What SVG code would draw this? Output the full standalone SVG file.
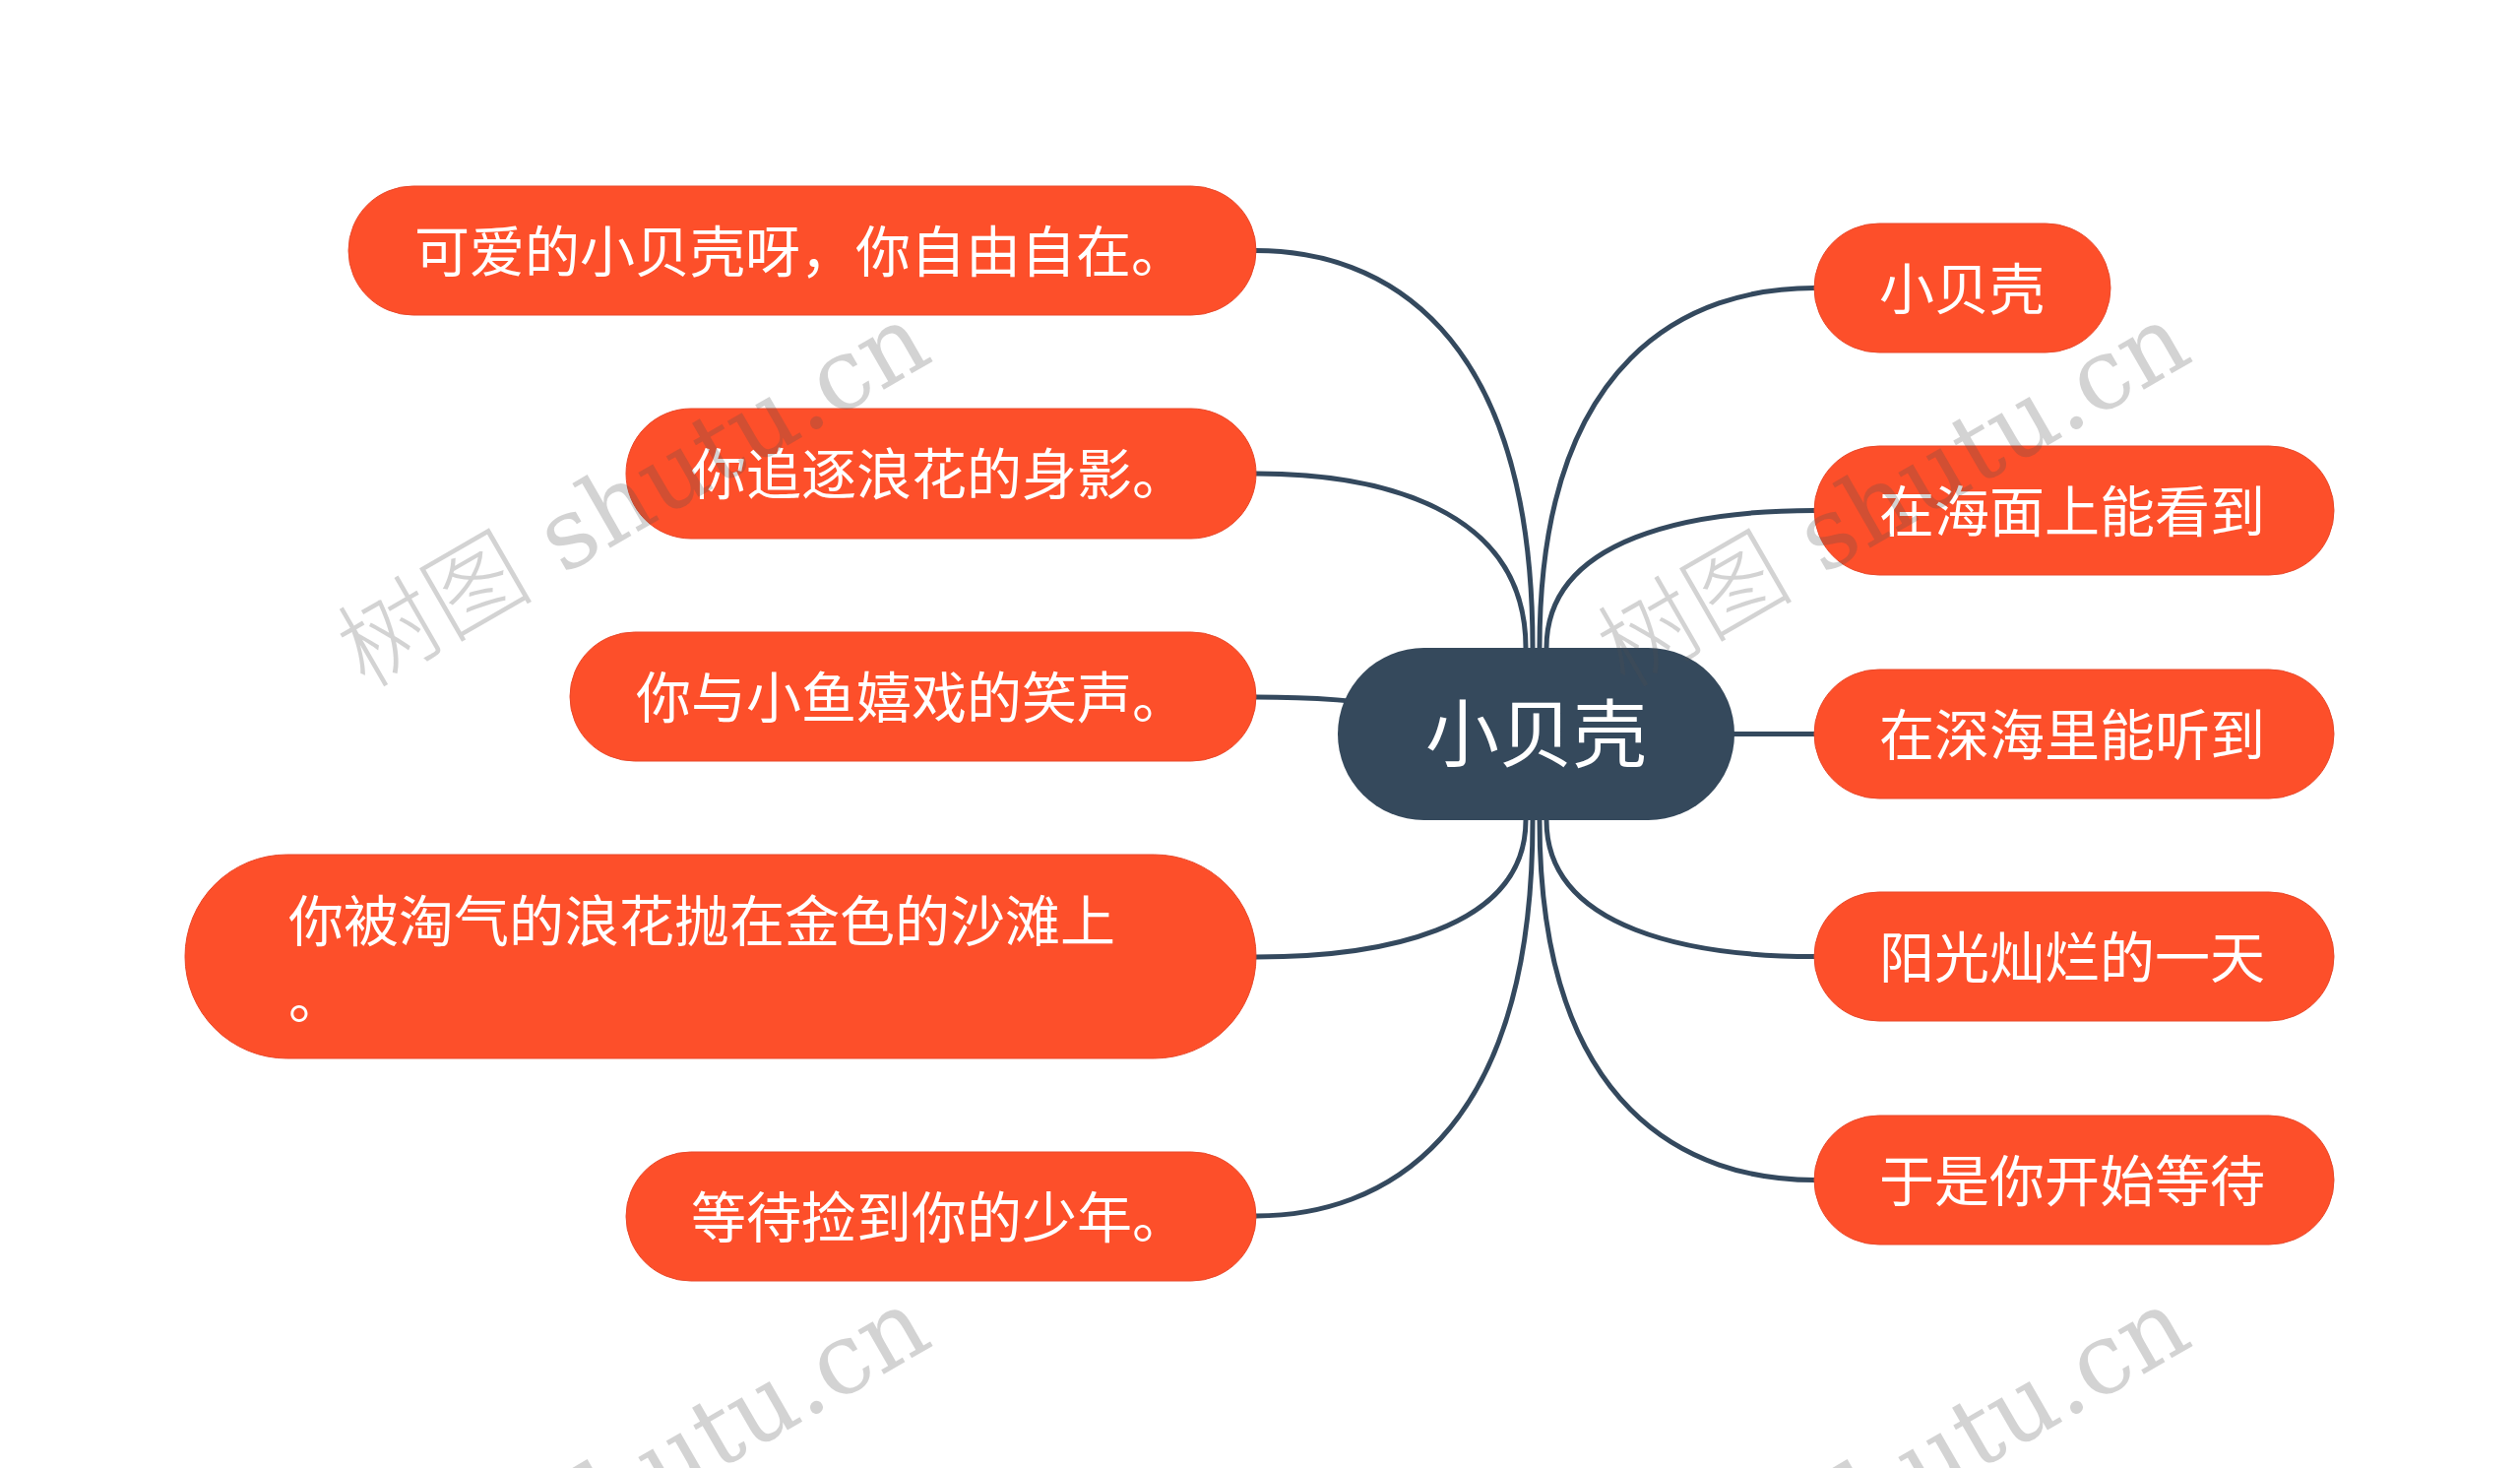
<svg xmlns="http://www.w3.org/2000/svg" width="2560" height="1491" viewBox="0 0 2560 1491">
<style>
.bg{fill:#ffffff}
.edge{fill:none;stroke:#34495e;stroke-width:5;stroke-linecap:round}
.leaf{fill:#fd4f2a;stroke:#e9482a;stroke-width:1}
.root{fill:#35495c}
.t{font-family:"Noto Sans CJK SC","Noto Sans",sans-serif;fill:#ffffff;font-size:56px}
.rt{font-family:"Noto Sans CJK SC","Noto Sans",sans-serif;fill:#ffffff;font-size:75px}
.wm{font-family:"DejaVu Serif","Noto Sans CJK SC",serif;font-size:100px;fill:#505050;fill-opacity:0.25;font-weight:300}
</style>
<rect class="bg" x="0" y="0" width="2560" height="1491"/>
<g id="connectors">
<path class="edge" d="M1276 254.5 C1402 254.5 1557 331 1557 658"/>
<path class="edge" d="M1276 481 C1399 481 1550 515 1550 658"/>
<path class="edge" d="M1276 708 C1330 708 1380 711 1460 722"/>
<path class="edge" d="M1550 833 C1550 946 1399 972 1276 972"/>
<path class="edge" d="M1557 833 C1557 1159 1402 1235 1276 1235"/>
<path class="edge" d="M1564 658 C1564 362 1717 292.5 1843 292.5"/>
<path class="edge" d="M1571 658 C1571 545 1721 518.5 1843 518.5"/>
<path class="edge" d="M1700 745.5 L1843 745.5"/>
<path class="edge" d="M1571 833 C1571 945 1721 971.5 1843 971.5"/>
<path class="edge" d="M1564 833 C1564 1129 1717 1198.5 1843 1198.5"/>
</g>
<g id="root">
<rect class="root" x="1359" y="658" width="403" height="175" rx="87.5"/>
<text class="rt" x="1560.5" y="773" text-anchor="middle">小贝壳</text>
</g>
<g id="left1">
<rect class="leaf" x="354" y="189" width="922" height="131" rx="65.5"/>
<text class="t" x="421" y="276">可爱的小贝壳呀，你自由自在。</text>
</g>
<g id="left2">
<rect class="leaf" x="636" y="415" width="640" height="132" rx="66"/>
<text class="t" x="702" y="502">你追逐浪花的身影。</text>
</g>
<g id="left3">
<rect class="leaf" x="579" y="642" width="697" height="131" rx="65.5"/>
<text class="t" x="646" y="729">你与小鱼嬉戏的笑声。</text>
</g>
<g id="left4">
<rect class="leaf" x="188" y="868" width="1088" height="207" rx="103.5"/>
<text class="t" x="293" y="956">你被淘气的浪花抛在金色的沙滩上</text>
<text class="t" x="293" y="1034">。</text>
</g>
<g id="left5">
<rect class="leaf" x="636" y="1170" width="640" height="131" rx="65.5"/>
<text class="t" x="702" y="1257">等待捡到你的少年。</text>
</g>
<g id="right1">
<rect class="leaf" x="1843" y="227" width="301" height="131" rx="65.5"/>
<text class="t" x="1909" y="314">小贝壳</text>
</g>
<g id="right2">
<rect class="leaf" x="1843" y="453" width="528" height="131" rx="65.5"/>
<text class="t" x="1909" y="540">在海面上能看到</text>
</g>
<g id="right3">
<rect class="leaf" x="1843" y="680" width="528" height="131" rx="65.5"/>
<text class="t" x="1909" y="767">在深海里能听到</text>
</g>
<g id="right4">
<rect class="leaf" x="1843" y="906" width="528" height="131" rx="65.5"/>
<text class="t" x="1909" y="993">阳光灿烂的一天</text>
</g>
<g id="right5">
<rect class="leaf" x="1843" y="1133" width="528" height="131" rx="65.5"/>
<text class="t" x="1909" y="1220">于是你开始等待</text>
</g>
<g id="watermarks">
<text class="wm" transform="translate(371,700) rotate(-30)">树图 shutu.cn</text>
<text class="wm" transform="translate(1651,700) rotate(-30)">树图 shutu.cn</text>
<text class="wm" transform="translate(371,1700) rotate(-30)">树图 shutu.cn</text>
<text class="wm" transform="translate(1651,1700) rotate(-30)">树图 shutu.cn</text>
</g>
</svg>
